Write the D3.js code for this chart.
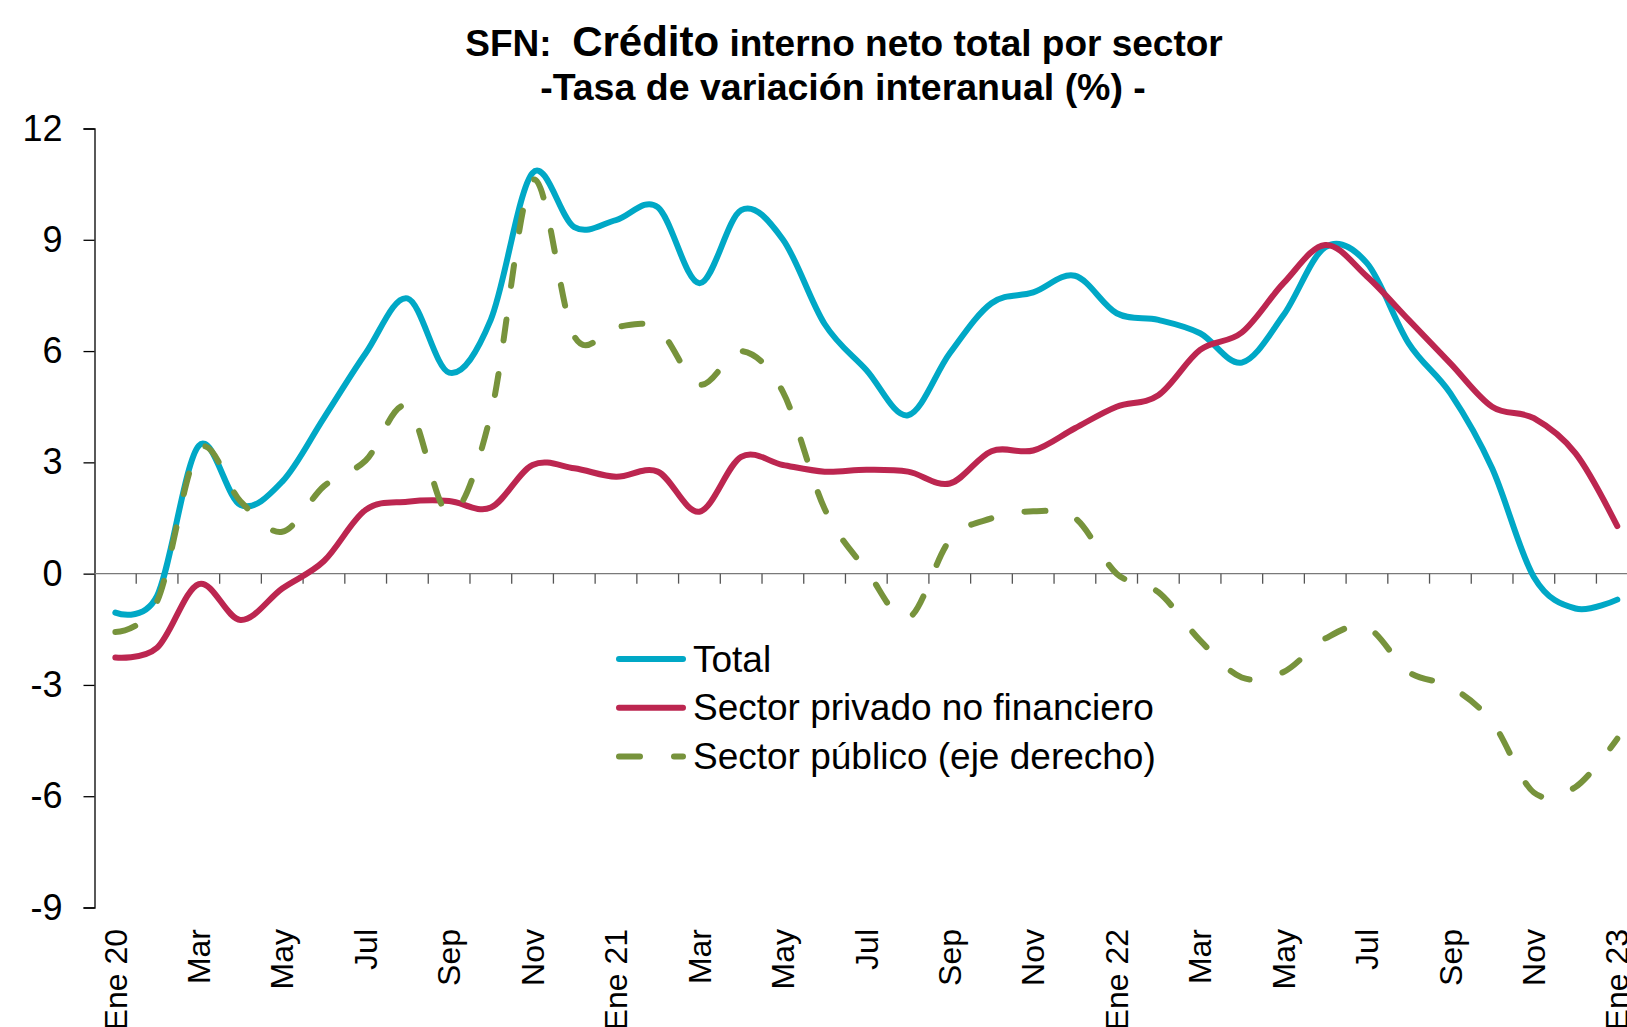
<!DOCTYPE html>
<html>
<head>
<meta charset="utf-8">
<script src="https://cdn.jsdelivr.net/npm/d3@7"></script>
<style>
  body { margin: 0; background: #fff; }
  svg { display: block; font-family: "Liberation Sans", Arial, sans-serif; }
</style>
</head>
<body>
<div class="chart"></div>
<script>
// meses Ene 2020 .. Ene 2023
const categories = ['Ene 20','Feb','Mar','Abr','May','Jun','Jul','Ago','Sep','Oct','Nov','Dic',
  'Ene 21','Feb','Mar','Abr','May','Jun','Jul','Ago','Sep','Oct','Nov','Dic',
  'Ene 22','Feb','Mar','Abr','May','Jun','Jul','Ago','Sep','Oct','Nov','Dic',
  'Ene 23'];

const total = [-1.05, -0.6, 3.45, 1.85, 2.48, 4.2, 5.94, 7.42, 5.42, 6.85, 10.8, 9.34,
  9.53, 9.88, 7.83, 9.8, 9.01, 6.73, 5.49, 4.27, 5.94, 7.29, 7.58, 8.03,
  7.02, 6.84, 6.48, 5.69, 6.97, 8.8, 8.37, 6.21, 4.86, 2.84, -0.09, -0.94,
  -0.7];

const privado = [-2.26, -2.0, -0.28, -1.25, -0.4, 0.34, 1.72, 1.94, 1.96, 1.78, 2.93, 2.84,
  2.61, 2.75, 1.67, 3.15, 2.93, 2.75, 2.8, 2.75, 2.43, 3.3, 3.32, 3.92,
  4.5, 4.81, 6.03, 6.5, 7.83, 8.86, 8.01, 6.84, 5.67, 4.5, 4.19, 3.24,
  1.28];

// eje derecho (no visible en el recorte), leido en unidades del eje izquierdo
const publico = [-1.57, -0.75, 3.35, 1.95, 1.13, 2.36, 3.05, 4.5, 1.62, 4.3, 10.6, 6.4,
  6.65, 6.6, 5.1, 6.0, 4.9, 1.75, 0.1, -1.2, 0.9, 1.49, 1.68, 1.5,
  0.0, -0.5, -1.8, -2.8, -2.65, -1.75, -1.45, -2.65, -3.05, -4.0, -5.9, -5.75,
  -4.45];

const yTicks = [-9, -6, -3, 0, 3, 6, 9, 12];

const series = [
  {name: 'Total', values: total, color: '#00A8C6', dash: null},
  {name: 'Sector privado no financiero', values: privado, color: '#BC2650', dash: null},
  {name: 'Sector público (eje derecho)', values: publico, color: '#77933C', dash: '21,34'}
];

const W = 1627, H = 1027;
const left = 94.5, step = 41.72;

const svg = d3.select('.chart').append('svg')
  .attr('width', W)
  .attr('height', H);

const x = d3.scaleBand()
  .domain(d3.range(categories.length))
  .range([left, left + step * categories.length])
  .padding(0);

const y = d3.scaleLinear()
  .domain([-9, 12])
  .range([907.5, 128.5]);

const cx = i => x(i) + x.bandwidth() / 2;

// titulo
const title = svg.append('text')
  .attr('x', 844)
  .attr('y', 56)
  .attr('text-anchor', 'middle')
  .attr('font-weight', 'bold')
  .attr('font-size', 37)
  .style('white-space', 'pre');
title.append('tspan').text('SFN:  ');
title.append('tspan').attr('font-size', 42).text('Crédito');
title.append('tspan').text(' interno neto total por sector');

svg.append('text')
  .attr('x', 843)
  .attr('y', 100)
  .attr('text-anchor', 'middle')
  .attr('font-weight', 'bold')
  .attr('font-size', 37.5)
  .text('-Tasa de variación interanual (%) -');

// eje y
const yAxis = svg.append('g')
  .attr('transform', `translate(${left},0)`)
  .call(d3.axisLeft(y).tickValues(yTicks).tickSize(11).tickPadding(21).tickFormat(d => String(d)));
yAxis.select('.domain').attr('stroke', '#000').attr('stroke-width', 1.3);
yAxis.selectAll('.tick line').attr('stroke', '#000').attr('stroke-width', 1.3);
yAxis.selectAll('.tick text')
  .attr('font-size', 36)
  .attr('font-family', '"Liberation Sans", Arial, sans-serif')
  .attr('fill', '#000');

// linea del cero con marcas entre meses
const y0 = y(0);
svg.append('line')
  .attr('x1', left).attr('x2', W)
  .attr('y1', y0).attr('y2', y0)
  .attr('stroke', '#7a7a7a')
  .attr('stroke-width', 1.3);

svg.append('g').selectAll('line')
  .data(d3.range(1, categories.length))
  .enter().append('line')
    .attr('x1', d => x(d)).attr('x2', d => x(d))
    .attr('y1', y0).attr('y2', y0 + 10)
    .attr('stroke', '#555')
    .attr('stroke-width', 1.3);

// etiquetas de meses (cada dos)
svg.append('g').selectAll('text')
  .data(d3.range(0, categories.length, 2))
  .enter().append('text')
    .attr('transform', d => `translate(${cx(d)},929) rotate(-90)`)
    .attr('text-anchor', 'end')
    .attr('dy', '0.35em')
    .attr('font-size', 32)
    .text(d => categories[d]);

// lineas
const line = d3.line()
  .x((d, i) => cx(i))
  .y(d => y(d))
  .curve(d3.curveCardinal.tension(0));

svg.selectAll('.serie')
  .data(series)
  .enter().append('path')
    .attr('class', 'serie')
    .attr('d', d => line(d.values))
    .attr('fill', 'none')
    .attr('stroke', d => d.color)
    .attr('stroke-width', 6)
    .attr('stroke-linecap', 'round')
    .attr('stroke-linejoin', 'round')
    .attr('stroke-dasharray', d => d.dash);

// leyenda
const legend = svg.append('g')
  .selectAll('g')
  .data(series)
  .enter().append('g')
    .attr('transform', (d, i) => `translate(0,${659 + i * 48.7})`);

legend.append('line')
  .attr('x1', 619).attr('x2', 683)
  .attr('stroke', d => d.color)
  .attr('stroke-width', 6)
  .attr('stroke-linecap', 'round')
  .attr('stroke-dasharray', d => d.dash);

legend.append('text')
  .attr('x', 693)
  .attr('y', 12.5)
  .attr('font-size', 37)
  .text(d => d.name);
</script>
</body>
</html>
